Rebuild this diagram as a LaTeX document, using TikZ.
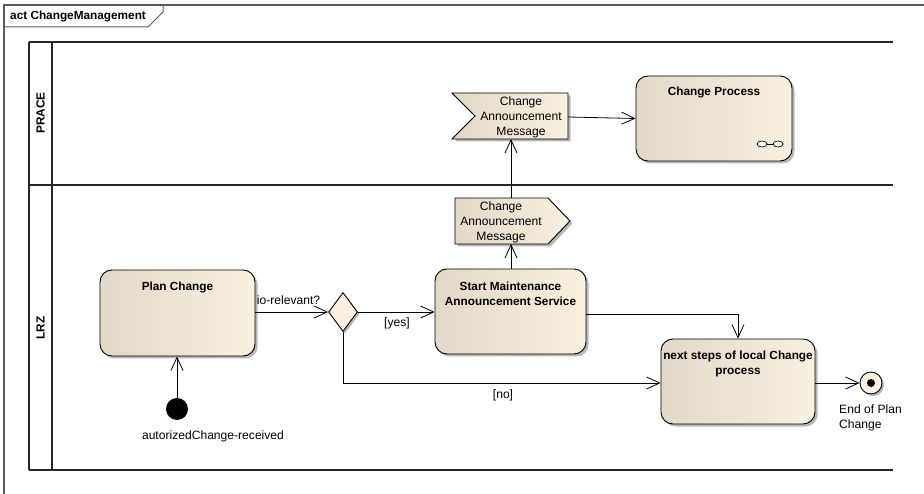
\documentclass[tikz,border=0pt]{standalone}
\usepackage{fontspec}
\setmainfont{Liberation Sans}
\usetikzlibrary{arrows.meta,shapes.geometric,shadows,calc}

\definecolor{boxleft}{RGB}{226,216,200}
\definecolor{boxright}{RGB}{250,240,223}
\definecolor{framegray}{RGB}{90,90,90}

\tikzset{
  x=1pt, y=-1pt,
  actbox/.style={rectangle, rounded corners=12pt, draw=black, line width=0.9pt,
    left color=boxleft, right color=boxright,
    drop shadow={shadow xshift=2.5pt, shadow yshift=-2.5pt, fill=black!40, opacity=0.7},
    inner sep=0pt},
  boxtitle/.style={font=\fontsize{11.8}{15}\selectfont\bfseries, align=center, inner sep=0pt},
  plain/.style={font=\fontsize{12.1}{15}\selectfont, align=center, inner sep=0pt},
  flow/.style={draw=black, line width=0.8pt, -{Straight Barb[length=13pt,width=12pt,line width=0.8pt]}},
  line/.style={draw=black, line width=0.8pt},
  lane/.style={draw=black!85, line width=1.2pt},
  sigshape/.style={draw=black, line width=0.9pt, left color=boxleft, right color=boxright,
    drop shadow={shadow xshift=2.5pt, shadow yshift=-2.5pt, fill=black!40, opacity=0.7}},
}

\begin{document}
\begin{tikzpicture}
\useasboundingbox (0,0) rectangle (924,494);

% diagram frame with its name tab
\draw[framegray, line width=1.3pt] (4,494) -- (4,5) -- (924,5);
\draw[framegray, line width=1pt] (4,27) -- (148,27) -- (163,12) -- (163,5);
\node[font=\fontsize{11.8}{14}\selectfont\bfseries, anchor=west, inner sep=0pt] (acttitle) at (10,16) {act ChangeManagement};

% swimlanes
\draw[lane] (29,42) -- (893,42);
\draw[lane] (29,185) -- (893,185);
\draw[lane] (29,470) -- (893,470);
\draw[lane] (29,42) -- (29,470);
\draw[lane] (52,42) -- (52,470);
\node[font=\fontsize{11.8}{14}\selectfont\bfseries, rotate=90, inner sep=0pt] (lanePRACE) at (40.5,113) {PRACE};
\node[font=\fontsize{11.8}{14}\selectfont\bfseries, rotate=90, inner sep=0pt] (laneLRZ) at (40.5,328) {LRZ};

% actions
\node[actbox, minimum width=155pt, minimum height=86pt] (plan) at (177.5,313) {};
\node[boxtitle] (plantitle) at ($(plan.north)+(0,18)$) {Plan Change};

\node[actbox, minimum width=151pt, minimum height=85pt] (start) at (510.5,311.5) {};
\node[boxtitle] (starttitle) at ($(start.north)+(0,25.5)$) {Start Maintenance\\Announcement Service};

\node[actbox, minimum width=154pt, minimum height=85pt] (next) at (738,381.5) {};
\node[boxtitle] (nexttitle) at ($(next.north)+(0,25.5)$) {next steps of local Change\\process};

\node[actbox, minimum width=156pt, minimum height=85pt] (proc) at (714,118.5) {};
\node[boxtitle] (proctitle) at ($(proc.north)+(0,17)$) {Change Process};
% call-behaviour rake
\draw[line width=0.7pt] (766,144) -- (774,144);
\draw[line width=0.7pt, fill=white] (762,144) ellipse (5pt and 3pt);
\draw[line width=0.7pt, fill=white] (778,144) ellipse (5pt and 3pt);

% send signal (LRZ)
\coordinate (sendNW) at (455,198);
\coordinate (sendNE) at (548,198);
\coordinate (sendTip) at (570,221);
\coordinate (sendSE) at (548,244);
\coordinate (sendSW) at (455,244);
\path[sigshape] (sendNW) -- (sendNE) -- (sendTip) -- (sendSE) -- (sendSW) -- cycle;
\node[plain] (send) at (501,222) {Change\\Announcement\\Message};
\coordinate (sendS) at (511,244);
\coordinate (sendN) at (511,198);

% accept event (PRACE)
\coordinate (recvNW) at (452,93);
\coordinate (recvNE) at (568,93);
\coordinate (recvSE) at (568,139);
\coordinate (recvSW) at (452,139);
\coordinate (recvNotch) at (475,116);
\path[sigshape] (recvNW) -- (recvNE) -- (recvSE) -- (recvSW) -- (recvNotch) -- cycle;
\node[plain] (recv) at (521,117) {Change\\Announcement\\Message};
\coordinate (recvS) at (511,139);
\coordinate (recvE) at (568,117);

% decision, initial and final nodes
\node[diamond, draw=black, line width=0.9pt, fill=boxright, minimum width=29pt, minimum height=39pt,
  inner sep=0pt, drop shadow={shadow xshift=2pt, shadow yshift=-2pt, fill=black!40, opacity=0.7}] (dec) at (343,312) {};
\node[circle, fill=black, minimum size=22pt, inner sep=0pt] (init) at (177,409) {};
\node[plain] (initlabel) at (213,436) {autorizedChange-received};
\node[circle, draw=black, line width=0.9pt, fill=boxright, minimum size=22pt, inner sep=0pt,
  drop shadow={shadow xshift=2pt, shadow yshift=-2pt, fill=black!40, opacity=0.7}] (final) at (871,383) {};
\node[circle, fill=black, minimum size=8pt, inner sep=0pt] (finaldot) at (final.center) {};
\node[plain, align=left, anchor=west] (finallabel) at (839,417.5) {End of Plan\\Change};

% control flows
\draw[flow] (init.north) -- (plan.south -| init.north);
\draw[flow] (plan.east |- dec.west) -- (dec.west);
\node[plain] (iolabel) at (288.5,300) {io-relevant?};
\draw[flow] (dec.east) -- (start.west |- dec.east);
\node[plain] (yeslabel) at (397,323) {[yes]};
\draw[flow] (dec.south) |- (next.west |- 0,383);
\node[plain] (nolabel) at (503,395) {[no]};
\draw[flow] (start.north -| sendS) -- (sendS);
\draw[flow] (sendN) -- (recvS);
\draw[flow] (recvE) -- (proc.west);
\draw[flow] (start.east |- 0,314) -| (next.north);
\draw[flow] (next.east |- final.west) -- (final.west);
\end{tikzpicture}
\end{document}
